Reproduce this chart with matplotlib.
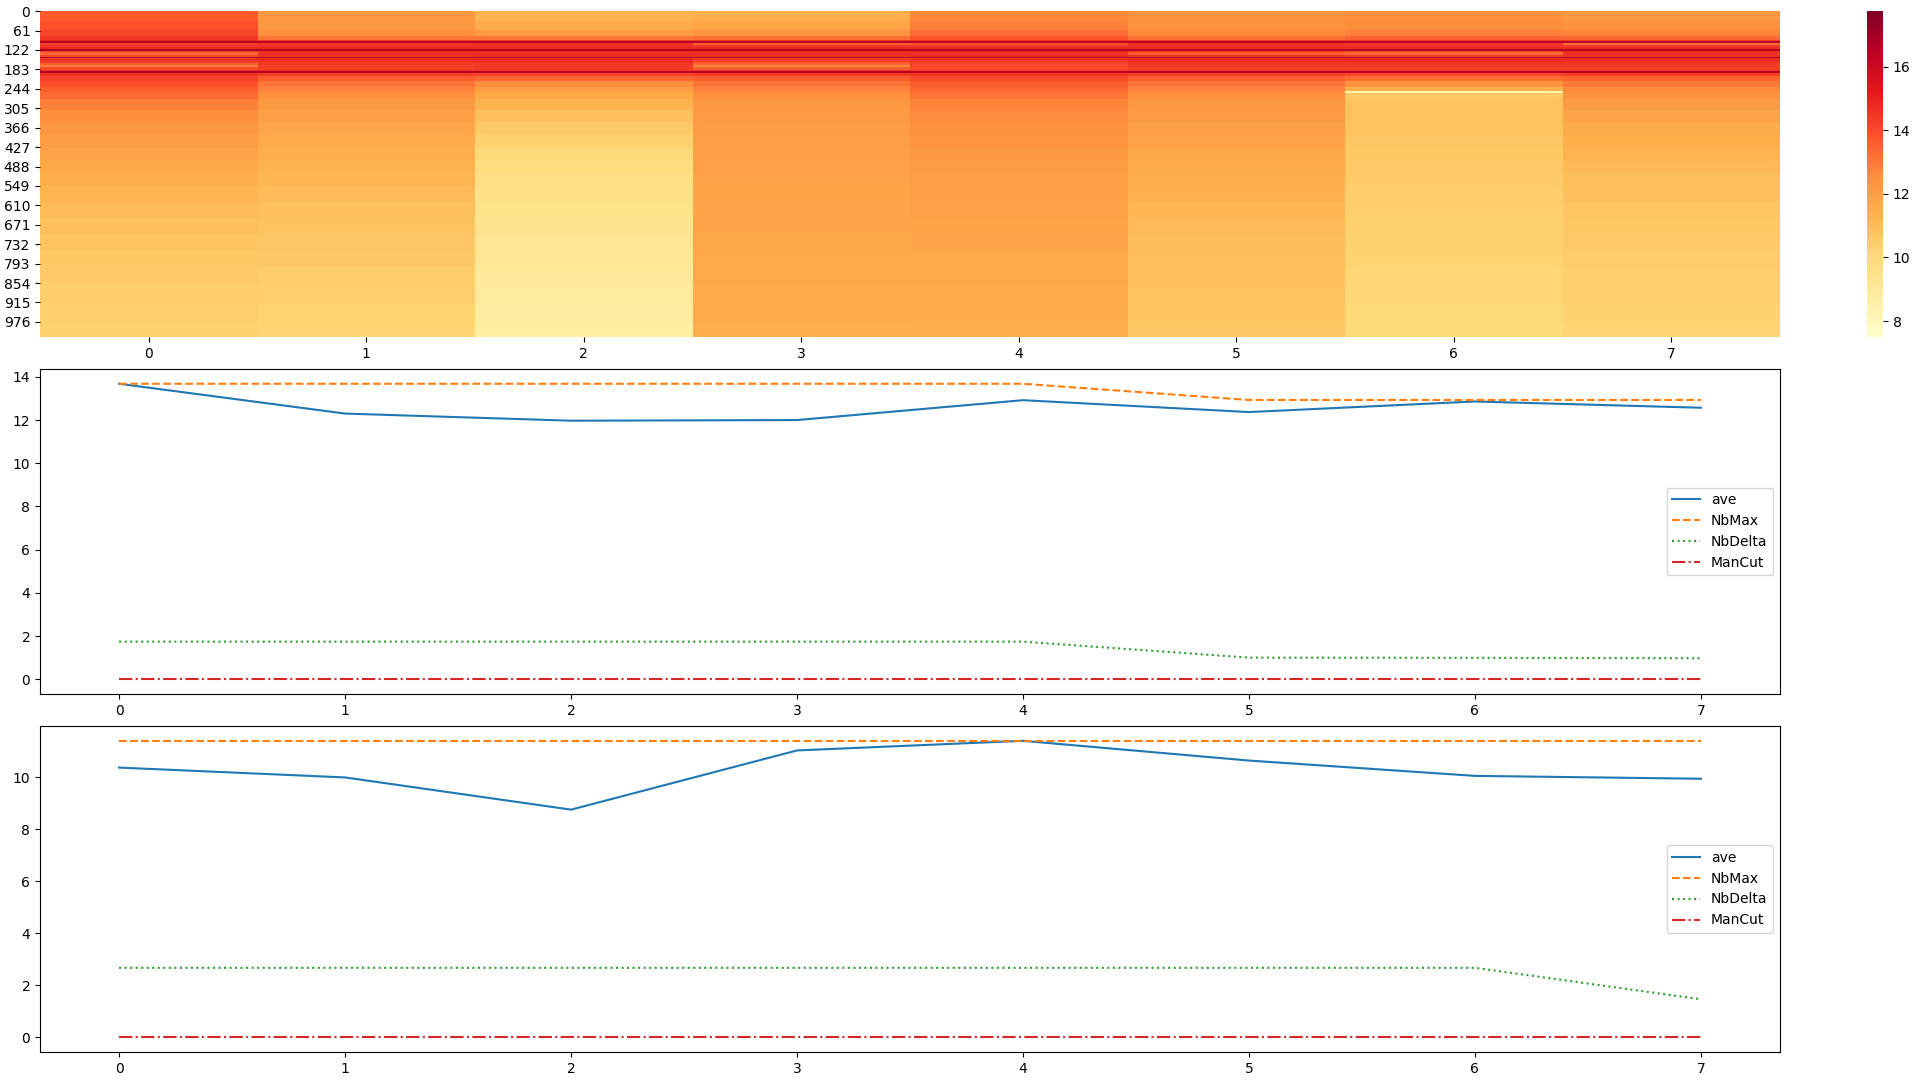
import numpy as np
import matplotlib
matplotlib.use("Agg")
import matplotlib.pyplot as plt

# heatmap: 8 columns, 1024 rows, values given per row band
row_edges = [0, 30, 60, 80, 90, 94, 99, 102, 108, 114, 119, 125, 130, 137, 143, 149,
             156, 163, 170, 177, 184, 190, 196, 205, 220, 240, 250, 256, 275, 310,
             350, 390, 430, 470, 510, 550, 600, 650, 700, 750, 800, 860, 920, 980, 1024]

col0 = [13.7, 13.9, 14.2, 14.5, 15.0, 16.6, 14.8, 14.3, 14.6, 14.8, 16.8, 14.3, 13.4,
        14.2, 16.9, 14.6, 14.3, 13.6, 12.9, 14.0, 14.6, 16.6, 14.6, 14.2, 13.9, 13.6,
        13.5, 13.3, 12.9,
        12.55, 12.3, 12.05, 11.85, 11.65, 11.45, 11.25, 11.05, 10.9, 10.75, 10.65, 10.55,
        10.45, 10.35, 10.3]
col1 = [12.2, 12.3, 12.5, 13.1, 14.4, 16.4, 14.9, 14.5, 14.6, 14.8, 16.6, 14.8, 14.6,
        14.7, 16.8, 14.8, 14.5, 14.4, 14.3, 14.3, 14.6, 16.5, 14.3, 13.6, 13.1, 12.8,
        12.7, 12.5, 12.2,
        11.95, 11.75, 11.6, 11.45, 11.3, 11.2, 11.05, 10.9, 10.8, 10.7, 10.6, 10.45,
        10.35, 10.25, 10.2]
col2 = [11.3, 11.6, 12.2, 13.1, 14.5, 16.5, 14.9, 14.6, 14.7, 14.9, 16.7, 14.9, 14.7,
        14.8, 16.8, 14.8, 14.6, 14.5, 14.4, 14.4, 14.6, 16.5, 14.2, 13.4, 12.6, 12.1,
        11.9, 11.7, 11.3,
        10.85, 10.55, 10.3, 10.05, 9.85, 9.7, 9.55, 9.45, 9.35, 9.25, 9.15, 9.05,
        8.95, 8.85, 8.8]
col3 = [11.5, 11.8, 12.4, 13.2, 14.5, 16.4, 14.7, 13.6, 14.4, 14.8, 16.6, 14.8, 14.6,
        14.7, 16.8, 14.4, 14.0, 13.5, 12.7, 13.6, 14.4, 16.5, 14.4, 13.6, 13.1, 12.8,
        12.7, 12.5, 12.3,
        12.15, 12.05, 12.0, 11.95, 11.9, 11.85, 11.8, 11.78, 11.75, 11.72, 11.7, 11.65,
        11.6, 11.55, 11.5]
col4 = [12.7, 12.9, 13.3, 13.8, 14.6, 16.4, 14.7, 13.8, 14.5, 14.8, 16.6, 14.9, 14.6,
        14.8, 16.8, 14.6, 14.4, 14.2, 14.1, 14.0, 14.4, 16.4, 14.5, 14.0, 13.6, 13.4,
        13.3, 13.1, 12.8,
        12.65, 12.5, 12.35, 12.2, 12.1, 12.0, 11.95, 11.88, 11.82, 11.76, 11.7, 11.64,
        11.58, 11.52, 11.48]
col5 = [12.4, 12.5, 12.7, 13.2, 14.5, 16.4, 14.9, 14.6, 14.6, 14.8, 16.6, 14.6, 13.7,
        14.6, 16.8, 14.8, 14.6, 14.5, 14.4, 14.3, 14.6, 16.5, 14.3, 13.6, 13.1, 12.8,
        12.7, 12.5, 12.3,
        12.15, 12.0, 11.85, 11.72, 11.6, 11.48, 11.35, 11.22, 11.1, 11.02, 10.96, 10.9,
        10.82, 10.75, 10.7]
col6 = [12.5, 12.6, 12.9, 13.5, 14.6, 16.4, 14.8, 14.6, 14.6, 14.8, 16.6, 14.4, 13.4,
        14.4, 16.8, 14.8, 14.6, 14.5, 14.4, 14.3, 14.6, 16.5, 14.1, 13.3, 12.4, 11.5,
        8.4, 10.6, 10.8,
        10.82, 10.76, 10.7, 10.64, 10.58, 10.52, 10.46, 10.4, 10.34, 10.28, 10.23, 10.18,
        10.12, 10.06, 10.02]
col7 = [12.3, 12.5, 12.8, 13.4, 14.5, 16.4, 14.7, 13.3, 14.4, 14.8, 16.6, 14.8, 14.6,
        14.7, 16.8, 14.8, 14.6, 14.5, 14.4, 14.3, 14.6, 16.5, 14.3, 13.5, 13.0, 12.7,
        12.6, 12.4, 12.1,
        11.75, 11.55, 11.4, 11.25, 11.1, 10.98, 10.86, 10.74, 10.64, 10.56, 10.49, 10.42,
        10.35, 10.27, 10.2]

ytick_rows = list(range(0, 1024, 61))

# line plots
x = [0, 1, 2, 3, 4, 5, 6, 7]
ave1 = [13.68, 12.30, 11.97, 12.00, 12.92, 12.37, 12.86, 12.57]
nbmax1 = [13.68, 13.68, 13.68, 13.68, 13.68, 12.93, 12.93, 12.93]
nbdelta1 = [1.74, 1.74, 1.74, 1.74, 1.74, 1.00, 0.99, 0.97]
mancut1 = [0, 0, 0, 0, 0, 0, 0, 0]

ave2 = [10.38, 10.00, 8.76, 11.04, 11.41, 10.65, 10.06, 9.95]
nbmax2 = [11.41, 11.41, 11.41, 11.41, 11.41, 11.41, 11.41, 11.41]
nbdelta2 = [2.67, 2.67, 2.67, 2.67, 2.67, 2.67, 2.67, 1.46]
mancut2 = [0, 0, 0, 0, 0, 0, 0, 0]

fig = plt.figure(figsize=(19.2, 10.8), dpi=100)

# heatmap
ax0 = fig.add_axes([40/1920, 1-337/1080, 1740/1920, 326/1080])
cax = fig.add_axes([1867/1920, 1-337/1080, 16/1920, 326/1080])
Z = np.array([col0, col1, col2, col3, col4, col5, col6, col7]).T
mesh = ax0.pcolormesh(np.arange(9), row_edges, Z, cmap='YlOrRd',
                      vmin=7.5, vmax=17.75, shading='flat')
ax0.set_xlim(0, 8)
ax0.set_ylim(1024, 0)
ax0.set_xticks(np.arange(8) + 0.5)
ax0.set_xticklabels([str(i) for i in range(8)])
ax0.set_yticks(np.array(ytick_rows) + 0.5)
ax0.set_yticklabels([str(r) for r in ytick_rows])
for s in ax0.spines.values():
    s.set_visible(False)
cb = fig.colorbar(mesh, cax=cax)
cb.outline.set_visible(False)
cb.set_ticks([8, 10, 12, 14, 16])

ax1 = fig.add_axes([40/1920, 1-694/1080, 1740/1920, 325/1080])
ax1.plot(x, ave1, '-', label='ave')
ax1.plot(x, nbmax1, '--', label='NbMax')
ax1.plot(x, nbdelta1, ':', label='NbDelta')
ax1.plot(x, mancut1, '-.', label='ManCut')
ax1.set_xticks(x)
ax1.legend(loc='center right')

ax2 = fig.add_axes([40/1920, 1-1052/1080, 1740/1920, 326/1080])
ax2.plot(x, ave2, '-', label='ave')
ax2.plot(x, nbmax2, '--', label='NbMax')
ax2.plot(x, nbdelta2, ':', label='NbDelta')
ax2.plot(x, mancut2, '-.', label='ManCut')
ax2.set_xticks(x)
ax2.legend(loc='center right')

plt.savefig('out.png', dpi=100)
